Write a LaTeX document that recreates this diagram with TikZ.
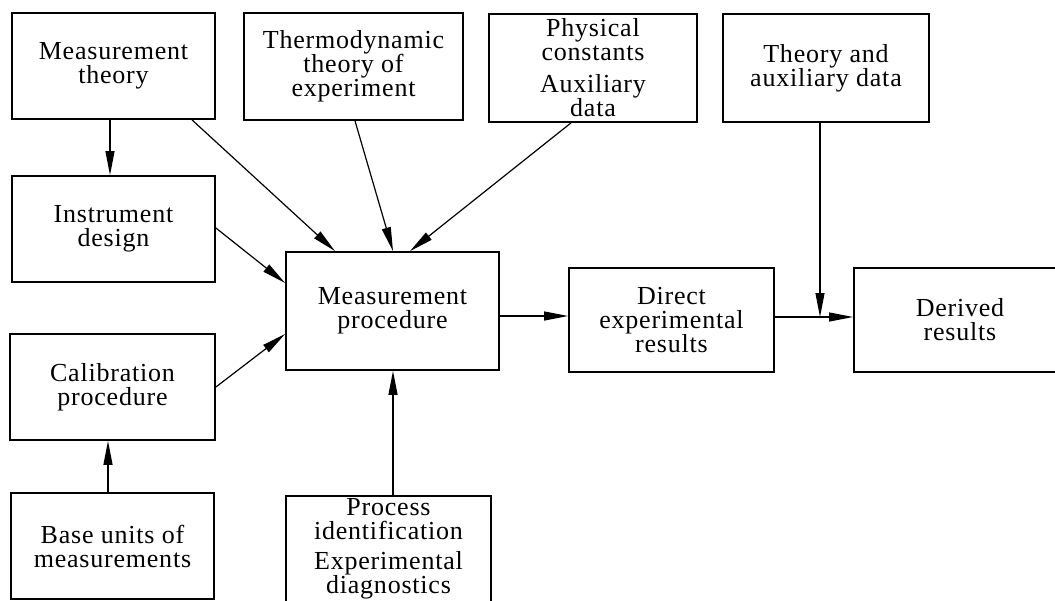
\documentclass[tikz,border=0pt]{standalone}
\usepackage{fontspec}
\setmainfont{Liberation Serif}[LetterSpace=3.0]
\usetikzlibrary{arrows.meta}
\begin{document}
\begin{tikzpicture}[x=1pt,y=-1pt,
  box/.style={draw, line width=1.8pt, rectangle, inner sep=0pt, align=center,
    font=\fontsize{26}{24}\selectfont},
  arr/.style={line width=1.2pt, -{Triangle[length=24pt,width=9pt]}},
  ln/.style={line width=1.2pt}]
\useasboundingbox (0,0) rectangle (1055,600);
\node[box, minimum width=203, minimum height=106] (mt) at (113.5,66) {Measurement\\theory};
\node[box, minimum width=219, minimum height=107] (th) at (353.5,66.5) {Thermodynamic\\theory of\\experiment};
\node[box, minimum width=208, minimum height=108] (ph) at (593,68) {\fontsize{26}{22}\selectfont Physical\\constants\\[8pt]Auxiliary\\data};
\node[box, minimum width=206, minimum height=108] (ta) at (826,68) {Theory and\\auxiliary data};
\node[box, minimum width=203, minimum height=106] (id) at (113.5,229) {Instrument\\design};
\node[box, minimum width=213, minimum height=118] (mp) at (392.5,311) {Measurement\\procedure};
\node[box, minimum width=205, minimum height=104] (de) at (671.5,320) {Direct\\experimental\\results};
\node[box, minimum width=212, minimum height=104] (dr) at (960,320) {Derived\\results};
\node[box, minimum width=205, minimum height=106] (cp) at (112.5,387) {Calibration\\procedure};
\node[box, minimum width=203, minimum height=106] (bu) at (112.5,546) {Base units of\\measurements};
\node[box, minimum width=205, minimum height=106] (pi) at (388.5,549) {Process\\identification\\[6pt]Experimental\\diagnostics};
\coordinate (jn) at (820,317);
\draw[arr] ([xshift=-3.5]mt.south) -- ([xshift=-3.5]id.north);
\draw[arr] ([xshift=78.5]mt.south) -- ([xshift=-57.5]mp.north);
\draw[arr] ([xshift=1.5]th.south) -- ([xshift=0.5]mp.north);
\draw[arr] ([xshift=-22]ph.south) -- ([xshift=17.5]mp.north);
\draw[arr] ([yshift=1]id.east) -- ([yshift=28]mp.west);
\draw[arr] (cp.east) -- ([yshift=-23]mp.west);
\draw[arr] ([xshift=-4.5]bu.north) -- ([xshift=-4.5]cp.south);
\draw[arr] ([xshift=4.5]pi.north) -- ([xshift=0.5]mp.south);
\draw[arr] ([yshift=-5]mp.east) -- ([yshift=4]de.west);
\draw[arr] ([yshift=3]de.east) -- ([yshift=3]dr.west);
\draw[arr] ([xshift=-6]ta.south) -- (jn);
\end{tikzpicture}
\end{document}
